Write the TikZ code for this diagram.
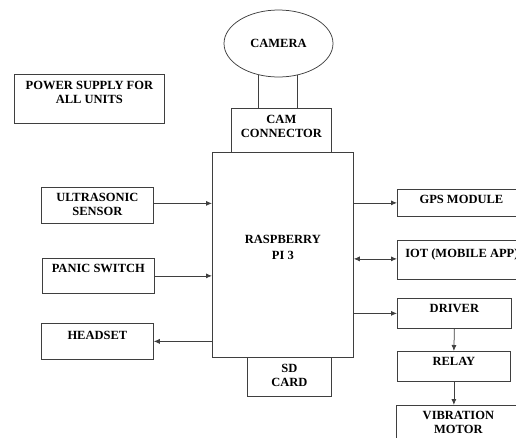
\documentclass[tikz,border=0pt]{standalone}
\usepackage{fontspec}
\setmainfont{Liberation Serif}
\usetikzlibrary{arrows.meta,shapes.geometric}
\definecolor{edge}{HTML}{3F3F3F}

\begin{document}
\begin{tikzpicture}[x=1pt,y=-1pt,
  every node/.style={font=\bfseries\fontsize{12.5}{14}\selectfont},
  block/.style={draw=edge,line width=0.75pt,rectangle,inner sep=0pt,anchor=north west},
  tlabel/.style={anchor=north,align=center},
  wire/.style={draw=edge,line width=0.75pt},
  link/.style={wire,-{Latex[length=6pt,width=5pt]}},
  both/.style={wire,{Latex[length=6pt,width=5pt]}-{Latex[length=6pt,width=5pt]}}]
  \useasboundingbox (0,0) rectangle (516,437);
  \clip (0,0) rectangle (516,437);

  % Camera on top
  \node[draw=edge,line width=0.75pt,ellipse,inner sep=0pt,minimum width=109pt,minimum height=67pt] (camera) at (278.5,43.5) {CAMERA};
  \node[block,minimum width=100pt,minimum height=44pt,label={[tlabel,yshift=-4pt]north:CAM\\CONNECTOR}] (camconn) at (231,108) {};
  \node[block,minimum width=150pt,minimum height=49pt,label={[tlabel,yshift=-4pt]north:POWER SUPPLY FOR\\ALL UNITS}] (power) at (14,74) {};

  % Main board
  \node[block,minimum width=141pt,minimum height=205pt,label={[tlabel,yshift=-80pt]north:RASPBERRY\\[2pt]PI 3}] (rpi) at (212,152) {};
  \node[block,minimum width=84pt,minimum height=39pt,label={[tlabel,yshift=-4pt]north:SD\\CARD}] (sdcard) at (247,357) {};

  % Left units
  \node[block,minimum width=112pt,minimum height=36pt,label={[tlabel,yshift=-3pt]north:ULTRASONIC\\SENSOR}] (ultra) at (41,187) {};
  \node[block,minimum width=112pt,minimum height=35pt,label={[tlabel,yshift=-3pt]north:PANIC SWITCH}] (panic) at (42,258) {};
  \node[block,minimum width=112pt,minimum height=36pt,label={[tlabel,yshift=-5pt]north:HEADSET}] (headset) at (41,323) {};

  % Right units
  \node[block,minimum width=128pt,minimum height=27pt,label={[tlabel,yshift=-3pt]north:GPS MODULE}] (gps) at (397,189) {};
  \node[block,minimum width=129pt,minimum height=39pt,label={[tlabel,yshift=-5pt]north:IOT (MOBILE APP)}] (iot) at (397,240) {};
  \node[block,minimum width=114pt,minimum height=30pt,label={[tlabel,yshift=-3pt]north:DRIVER}] (driver) at (397,298) {};
  \node[block,minimum width=113pt,minimum height=30pt,label={[tlabel,yshift=-3pt]north:RELAY}] (relay) at (397,351) {};
  \node[block,minimum width=124pt,minimum height=45pt,label={[tlabel,yshift=-3pt]north:VIBRATION\\MOTOR}] (vibration) at (396,405) {};

  % Connections
  \draw[wire] (camera.-123.5) -- (camera.-123.5 |- camconn.north);
  \draw[wire] (camera.-59.6) -- (camera.-59.6 |- camconn.north);
  \draw[link] ([yshift=2pt]ultra.east) -- ([yshift=2pt]ultra.east -| rpi.west);
  \draw[link] (panic.east) -- (panic.east -| rpi.west);
  \draw[link] (headset.east -| rpi.west) -- (headset.east);
  \draw[link] (gps.west -| rpi.east) -- (gps.west);
  \draw[both] ([yshift=1pt]iot.west -| rpi.east) -- ([yshift=1pt]iot.west);
  \draw[link] (driver.west -| rpi.east) -- (driver.west);
  \draw[link] (driver.south) -- (relay.north);
  \draw[link] (relay.south) -- (relay.south |- vibration.north);
\end{tikzpicture}
\end{document}
